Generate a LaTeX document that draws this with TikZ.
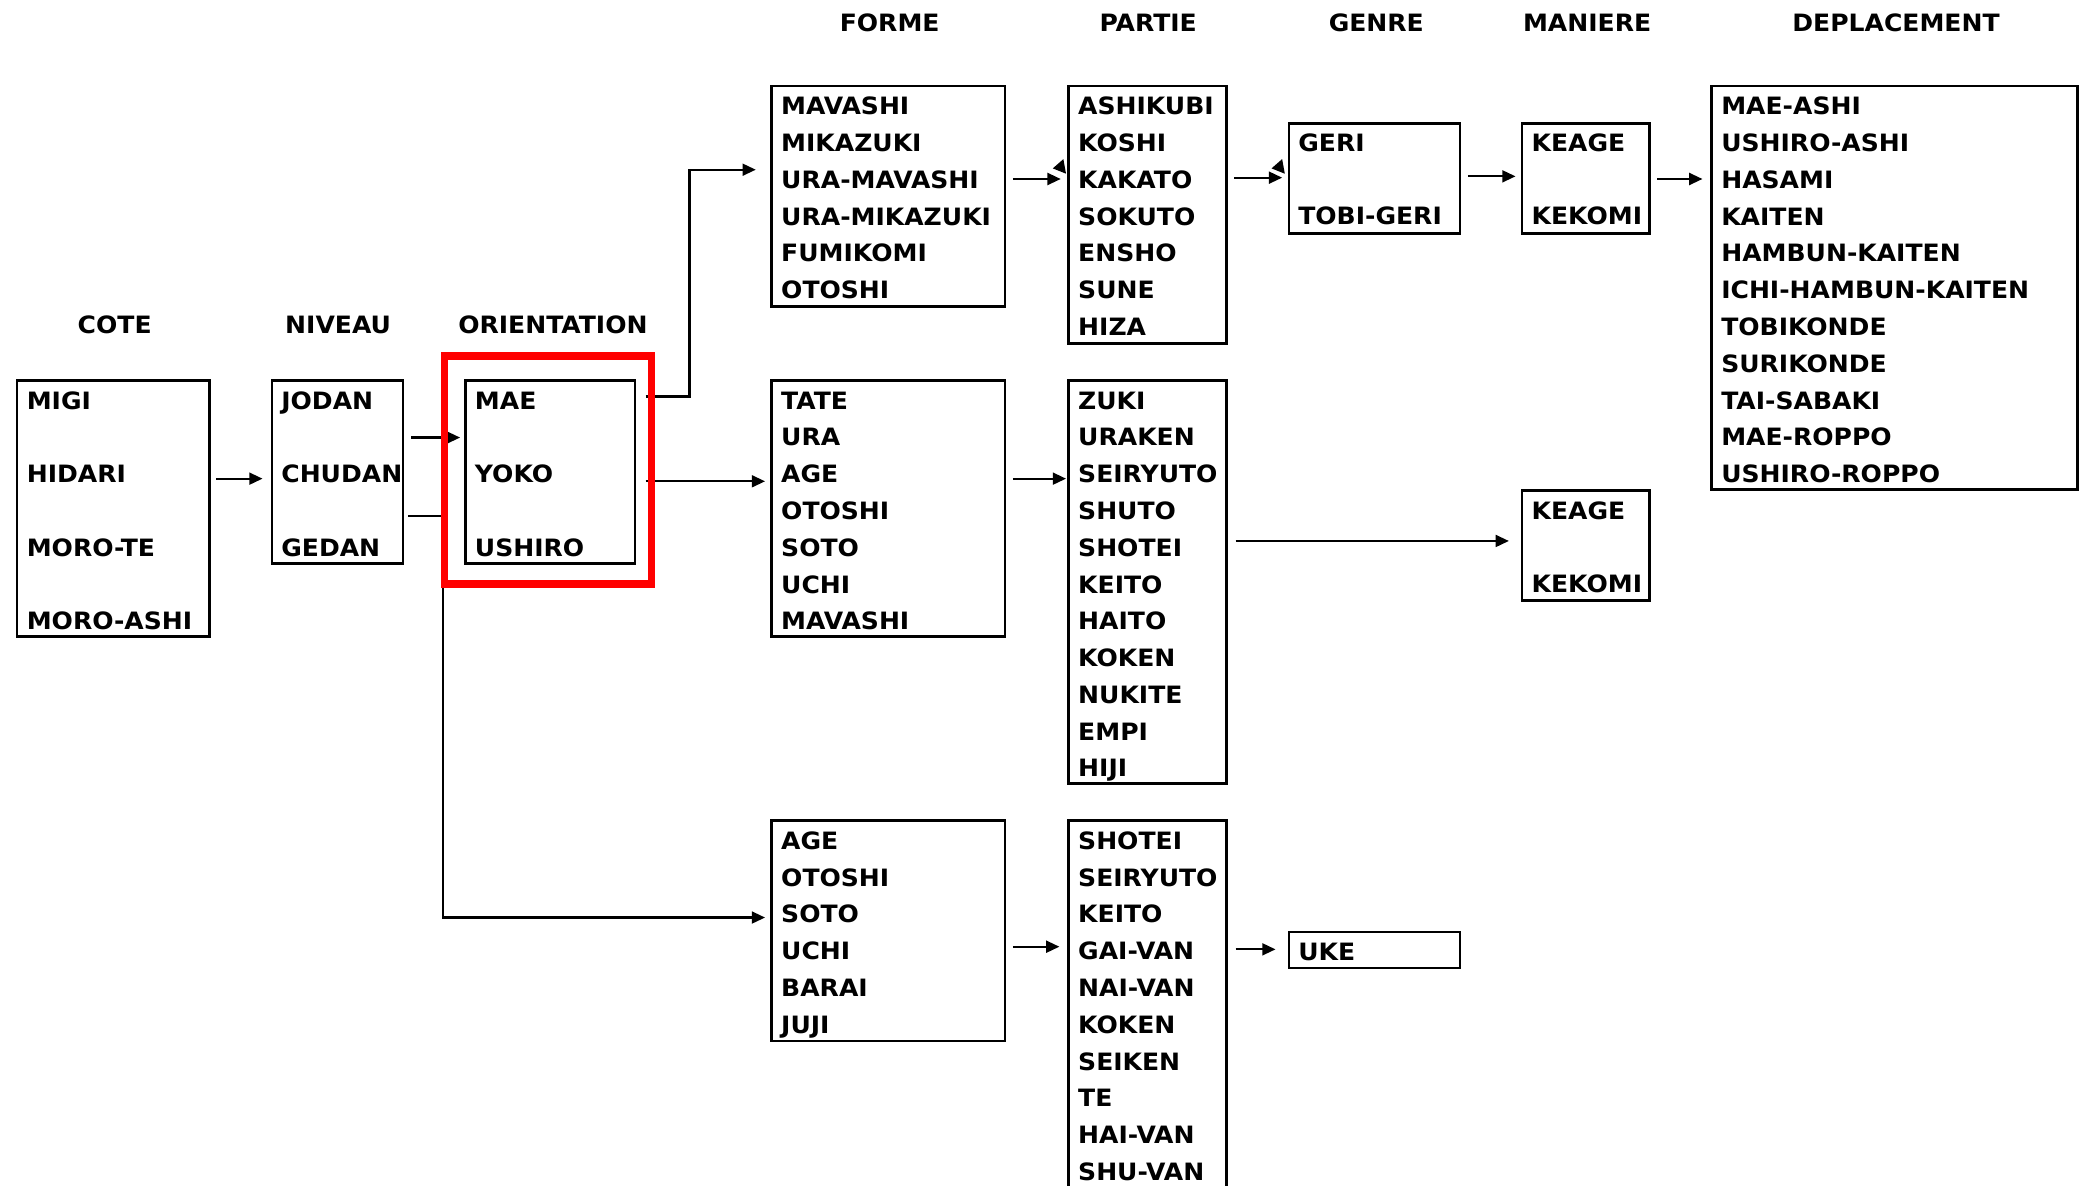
\documentclass[tikz,border=0pt]{standalone}
\usepackage{fontspec}
\setmainfont{DejaVu Sans}[FakeStretch=1.05]
\usetikzlibrary{arrows.meta}
\newcommand\lblfont{\bfseries\fontsize{18}{22}\selectfont}
\newcommand\listbox[7]{%
  \node[box, minimum width=#4pt, minimum height=#5pt] (#1) at (#2,#3) {};
  \foreach \itm [count=\k] in {#7}
    \node[item] (#1-\k) at ({#2+7},{#3+21.5+(\k-1)*#6}) {\itm};
}
\begin{document}
\begin{tikzpicture}[x=1pt,y=-1pt,
  box/.style={draw, line width=1.9pt, anchor=north west, inner sep=0pt, outer sep=0pt},
  item/.style={anchor=base west, inner sep=0pt, font=\lblfont},
  head/.style={anchor=base, inner sep=0pt, font=\lblfont},
  link/.style={line width=1.6pt},
  arr/.style={line width=1.6pt, -{Triangle[length=10pt,width=9pt]}},
  redbox/.style={draw=red, line width=5.5pt, anchor=north west, inner sep=0pt, outer sep=0pt}]
\useasboundingbox (0,0) rectangle (1568,894);
\fill[white] (0,0) rectangle (1568,894);
\clip (0,0) rectangle (1568,894);

% headers
\node[head] (hForme) at (671,23.5) {FORME};
\node[head] (hPartie) at (866,23.5) {PARTIE};
\node[head] (hGenre) at (1038,23.5) {GENRE};
\node[head] (hManiere) at (1197,23.5) {MANIERE};
\node[head] (hDepl) at (1430,23.5) {DEPLACEMENT};
\node[head] (hCote) at (86.5,251.5) {COTE};
\node[head] (hNiveau) at (255,251.5) {NIVEAU};
\node[head] (hOrient) at (417,251.5) {ORIENTATION};

% boxes
\listbox{cote}{13}{287}{145}{193}{55.5}{MIGI,HIDARI,MORO-TE,MORO-ASHI}
\listbox{niveau}{205}{287}{99}{138}{55.5}{JODAN,CHUDAN,GEDAN}
\listbox{orient}{351}{287}{128}{138}{55.5}{MAE,YOKO,USHIRO}
\listbox{formeA}{582}{65}{176}{166}{27.75}{MAVASHI,MIKAZUKI,URA-MAVASHI,URA-MIKAZUKI,FUMIKOMI,OTOSHI}
\listbox{partieA}{806}{65}{119}{194}{27.75}{ASHIKUBI,KOSHI,KAKATO,SOKUTO,ENSHO,SUNE,HIZA}
\listbox{genreA}{972}{93}{129}{83}{55}{GERI,TOBI-GERI}
\listbox{maniereA}{1148}{93}{96}{83}{55}{KEAGE,KEKOMI}
\listbox{depl}{1291}{65}{276}{304}{27.75}{MAE-ASHI,USHIRO-ASHI,HASAMI,KAITEN,HAMBUN-KAITEN,ICHI-HAMBUN-KAITEN,TOBIKONDE,SURIKONDE,TAI-SABAKI,MAE-ROPPO,USHIRO-ROPPO}
\listbox{formeB}{582}{287}{176}{193}{27.75}{TATE,URA,AGE,OTOSHI,SOTO,UCHI,MAVASHI}
\listbox{partieB}{806}{287}{119}{304}{27.75}{ZUKI,URAKEN,SEIRYUTO,SHUTO,SHOTEI,KEITO,HAITO,KOKEN,NUKITE,EMPI,HIJI}
\listbox{maniereB}{1148}{370}{96}{83}{55.5}{KEAGE,KEKOMI}
\listbox{formeC}{582}{619}{176}{166}{27.75}{AGE,OTOSHI,SOTO,UCHI,BARAI,JUJI}
\listbox{partieC}{806}{619}{119}{300}{27.75}{SHOTEI,SEIRYUTO,KEITO,GAI-VAN,NAI-VAN,KOKEN,SEIKEN,TE,HAI-VAN,SHU-VAN}
\listbox{uke}{972}{703}{129}{27}{27.75}{UKE}

% connectors
\draw[arr, shorten <=5pt, shorten >=7pt] (cote.east |- 0,361) -- (niveau.west |- 0,361);
\draw[arr, shorten <=6pt, shorten >=4pt] (niveau.east |- 0,330) -- (orient.west |- 0,330);
\coordinate (vtop) at (334,389);
\coordinate (vbot) at (334,692);
\draw[arr, shorten <=4pt, shorten >=5pt] (niveau.east |- 0,389) -- (vtop) -- (vbot) -- (formeC.west |- 0,692);
\coordinate (mae1) at (520,299);
\coordinate (mae2) at (520,128);
\draw[arr, shorten <=8pt, shorten >=12pt] (orient.east |- 0,299) -- (mae1) -- (mae2) -- (formeA.west |- 0,128);
\draw[arr, shorten <=8pt, shorten >=5pt] (orient.east |- 0,363) -- (formeB.west |- 0,363);
\draw[arr, shorten <=6pt, shorten >=6pt] (formeA.east |- 0,135) -- (partieA.west |- 0,135);
\draw[arr, shorten <=6pt, shorten >=5pt] (partieA.east |- 0,134) -- (genreA.west |- 0,134);
\draw[arr, shorten <=6pt, shorten >=5pt] (genreA.east |- 0,133) -- (maniereA.west |- 0,133);
\draw[arr, shorten <=6pt, shorten >=7pt] (maniereA.east |- 0,135) -- (depl.west |- 0,135);
\draw[arr, shorten <=6pt, shorten >=2pt] (formeB.east |- 0,361) -- (partieB.west |- 0,361);
\draw[arr, shorten <=7pt, shorten >=10pt] (partieB.east |- 0,408) -- (maniereB.west |- 0,408);
\draw[arr, shorten <=6pt, shorten >=7pt] (formeC.east |- 0,714) -- (partieC.west |- 0,714);
\draw[arr, shorten <=7pt, shorten >=10pt] (partieC.east |- 0,716) -- (uke.west |- 0,716);
% small extra tips
\fill (794,127) -- (802,120) -- (804,131) -- cycle;
\fill (959,127) -- (967,120) -- (969,131) -- cycle;

% highlight
\node[redbox, minimum width=156pt, minimum height=172pt] (hl) at (335.5,268.5) {};
\end{tikzpicture}
\end{document}
